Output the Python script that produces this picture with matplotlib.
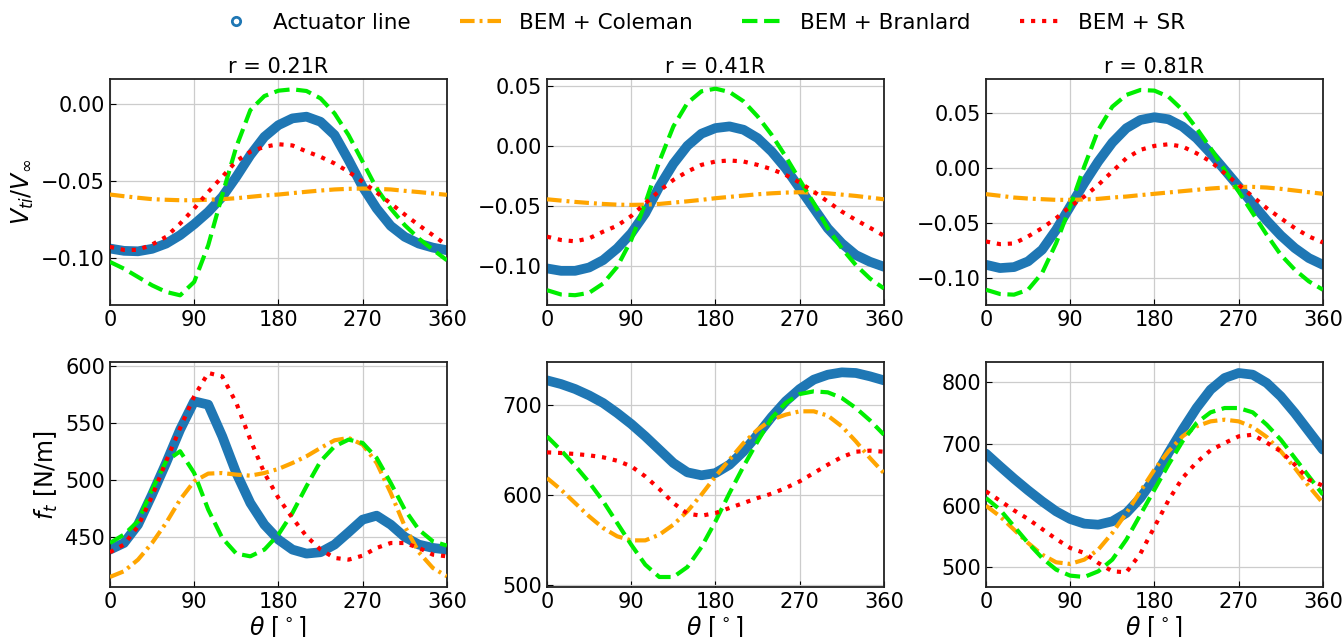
import numpy as np
import matplotlib
matplotlib.use("Agg")
import matplotlib.pyplot as plt
from matplotlib.lines import Line2D

theta = np.arange(0, 361, 15)

# induced tangential velocity V_ti / V_inf
vt_r21_al = [-0.0938, -0.0953, -0.0956, -0.0940, -0.0906, -0.0851, -0.0780, -0.0700, -0.0602, -0.0472, -0.0331, -0.0212, -0.0136,
             -0.0092, -0.0081, -0.0114, -0.0200, -0.0363, -0.0537, -0.0678, -0.0791, -0.0862, -0.0906, -0.0932, -0.0949]
vt_r21_col = [-0.0587, -0.0598, -0.0608, -0.0617, -0.0621, -0.0624, -0.0624, -0.0621, -0.0617, -0.0611, -0.0602, -0.0593, -0.0587,
              -0.0578, -0.0569, -0.0561, -0.0554, -0.0550, -0.0548, -0.0550, -0.0554, -0.0563, -0.0571, -0.0580, -0.0589]
vt_r21_bra = [-0.1025, -0.1069, -0.1123, -0.1177, -0.1220, -0.1242, -0.1155, -0.0917, -0.0590, -0.0277, -0.0038, 0.0053, 0.0088,
              0.0097, 0.0086, 0.0038, -0.0060, -0.0201, -0.0374, -0.0548, -0.0678, -0.0786, -0.0873, -0.0945, -0.1014]
vt_r21_sr = [-0.0927, -0.0947, -0.0947, -0.0912, -0.0862, -0.0776, -0.0678, -0.0570, -0.0472, -0.0370, -0.0309, -0.0277, -0.0260,
             -0.0268, -0.0307, -0.0342, -0.0385, -0.0439, -0.0504, -0.0574, -0.0645, -0.0717, -0.0786, -0.0851, -0.0917]

vt_r41_al = [-0.1024, -0.1044, -0.1044, -0.1016, -0.0954, -0.0856, -0.0730, -0.0562, -0.0339, -0.0148, 0.0003, 0.0104, 0.0151,
             0.0165, 0.0137, 0.0067, -0.0045, -0.0185, -0.0353, -0.0520, -0.0688, -0.0814, -0.0912, -0.0968, -0.1010]
vt_r41_col = [-0.0445, -0.0456, -0.0467, -0.0476, -0.0484, -0.0490, -0.0492, -0.0490, -0.0484, -0.0473, -0.0462, -0.0450, -0.0436,
              -0.0425, -0.0414, -0.0403, -0.0395, -0.0389, -0.0386, -0.0389, -0.0395, -0.0406, -0.0417, -0.0431, -0.0445]
vt_r41_bra = [-0.1206, -0.1242, -0.1248, -0.1228, -0.1150, -0.1010, -0.0786, -0.0478, -0.0129, 0.0165, 0.0361, 0.0459, 0.0481,
              0.0453, 0.0375, 0.0249, 0.0095, -0.0087, -0.0283, -0.0478, -0.0688, -0.0856, -0.0996, -0.1108, -0.1192]
vt_r41_sr = [-0.0758, -0.0786, -0.0797, -0.0772, -0.0716, -0.0666, -0.0585, -0.0478, -0.0375, -0.0283, -0.0213, -0.0157, -0.0129,
             -0.0120, -0.0129, -0.0157, -0.0193, -0.0241, -0.0305, -0.0381, -0.0464, -0.0548, -0.0618, -0.0683, -0.0750]

vt_r81_al = [-0.0879, -0.0909, -0.0900, -0.0848, -0.0742, -0.0561, -0.0348, -0.0136, 0.0061, 0.0233, 0.0364, 0.0439, 0.0464,
             0.0445, 0.0379, 0.0273, 0.0136, -0.0015, -0.0167, -0.0324, -0.0476, -0.0612, -0.0727, -0.0818, -0.0879]
vt_r81_col = [-0.0236, -0.0251, -0.0267, -0.0276, -0.0282, -0.0288, -0.0288, -0.0285, -0.0279, -0.0267, -0.0258, -0.0245, -0.0233,
              -0.0221, -0.0209, -0.0197, -0.0185, -0.0176, -0.0170, -0.0170, -0.0176, -0.0188, -0.0203, -0.0218, -0.0233]
vt_r81_bra = [-0.1106, -0.1145, -0.1151, -0.1106, -0.0954, -0.0682, -0.0348, 0.0015, 0.0348, 0.0560, 0.0667, 0.0712, 0.0706,
              0.0651, 0.0530, 0.0364, 0.0182, -0.0015, -0.0212, -0.0409, -0.0606, -0.0788, -0.0924, -0.1030, -0.1106]
vt_r81_sr = [-0.0667, -0.0691, -0.0685, -0.0621, -0.0545, -0.0455, -0.0348, -0.0258, -0.0152, -0.0030, 0.0091, 0.0167, 0.0203,
             0.0218, 0.0197, 0.0136, 0.0061, -0.0045, -0.0152, -0.0258, -0.0364, -0.0455, -0.0545, -0.0621, -0.0676]

# tangential force f_t [N/m]
ft_r21_al = [438.6, 444.4, 460.5, 486.8, 514.6, 543.9, 568.7, 565.8, 538.0, 505.8, 479.5, 460.5, 447.4,
             438.6, 435.1, 436.3, 443.0, 453.8, 464.9, 468.4, 460.5, 449.7, 443.0, 440.1, 438.6]
ft_r21_col = [414.6, 419.6, 429.8, 444.4, 462.0, 482.5, 498.5, 505.3, 505.8, 504.4, 503.5, 505.8, 509.4,
              514.6, 520.5, 527.8, 534.5, 536.6, 530.7, 514.6, 488.3, 459.1, 436.3, 422.5, 415.2]
ft_r21_bra = [444.4, 451.8, 463.4, 491.2, 516.1, 524.9, 505.8, 473.7, 448.8, 435.1, 432.7, 438.6, 451.8,
              470.8, 494.2, 516.1, 529.2, 535.1, 532.2, 519.0, 497.1, 473.7, 456.1, 445.9, 442.1]
ft_r21_sr = [436.3, 443.0, 459.1, 485.4, 516.1, 545.3, 573.1, 593.6, 590.6, 567.3, 535.1, 505.8, 483.9,
             466.4, 450.3, 438.6, 431.3, 429.8, 433.3, 440.1, 444.4, 444.4, 440.1, 434.2, 432.7]

ft_r41_al = [727.4, 723.3, 717.8, 710.7, 702.2, 691.1, 678.9, 665.2, 650.4, 635.6, 625.2, 621.9, 624.4,
             633.7, 648.5, 667.0, 686.7, 704.1, 717.8, 728.2, 733.7, 736.3, 735.6, 731.9, 727.4]
ft_r41_col = [618.9, 605.9, 591.1, 576.3, 563.3, 554.1, 549.6, 549.6, 555.9, 567.0, 581.9, 600.4, 620.7,
              639.3, 657.8, 672.6, 683.7, 689.3, 693.0, 693.0, 688.2, 676.3, 659.6, 641.1, 624.4]
ft_r41_bra = [665.2, 649.6, 632.6, 614.1, 593.0, 568.9, 544.8, 522.6, 508.9, 508.9, 520.0, 542.2, 570.7,
              602.2, 631.9, 659.6, 685.6, 702.2, 712.2, 715.2, 714.1, 707.8, 696.7, 683.0, 667.0]
ft_r41_sr = [647.4, 646.7, 645.6, 644.1, 641.9, 638.1, 631.9, 620.7, 606.7, 591.1, 579.3, 577.0, 580.0,
             585.6, 591.1, 596.7, 601.5, 607.8, 615.2, 624.4, 633.7, 642.2, 648.1, 649.3, 648.1]

ft_r81_al = [684.2, 663.7, 643.7, 624.8, 607.0, 590.8, 578.4, 570.9, 569.2, 574.6, 588.1, 612.4, 644.8,
             685.3, 723.0, 758.1, 787.8, 806.7, 814.8, 812.1, 798.6, 777.0, 750.0, 720.3, 690.7]
ft_r81_col = [600.0, 582.7, 561.1, 539.6, 520.7, 508.3, 505.6, 512.6, 528.8, 555.8, 588.1, 623.2, 658.3,
              688.0, 712.2, 728.4, 736.5, 739.2, 736.5, 727.3, 711.2, 688.0, 661.0, 631.3, 604.3]
ft_r81_bra = [612.4, 593.5, 566.5, 539.6, 515.3, 496.4, 486.7, 484.5, 493.7, 512.6, 545.0, 585.4, 625.9,
              666.4, 704.1, 733.8, 751.1, 758.1, 758.1, 751.1, 731.1, 706.8, 677.2, 647.5, 617.8]
ft_r81_sr = [623.2, 608.1, 592.4, 578.4, 562.2, 546.0, 531.5, 523.4, 507.2, 493.7, 492.1, 522.3, 565.5,
             608.6, 644.8, 670.1, 689.6, 701.4, 712.2, 714.9, 702.0, 688.0, 666.4, 642.1, 632.4]

titles = ['r = 0.21R', 'r = 0.41R', 'r = 0.81R']
labels = ['Actuator line', 'BEM + Coleman', 'BEM + Branlard', 'BEM + SR']
x_ticks = [0, 90, 180, 270, 360]
vt_yticks = [[-0.10, -0.05, 0.00], [-0.10, -0.05, 0.00, 0.05], [-0.10, -0.05, 0.00, 0.05]]
ft_yticks = [[450, 500, 550, 600], [500, 600, 700], [500, 600, 700, 800]]
vt_ylims = [(-0.1305, 0.0164), (-0.133, 0.0562), (-0.1245, 0.0812)]
ft_ylims = [(405.8, 603.2), (497.8, 747.8), (468.3, 832.6)]

vt_data = [(vt_r21_al, vt_r21_col, vt_r21_bra, vt_r21_sr),
           (vt_r41_al, vt_r41_col, vt_r41_bra, vt_r41_sr),
           (vt_r81_al, vt_r81_col, vt_r81_bra, vt_r81_sr)]
ft_data = [(ft_r21_al, ft_r21_col, ft_r21_bra, ft_r21_sr),
           (ft_r41_al, ft_r41_col, ft_r41_bra, ft_r41_sr),
           (ft_r81_al, ft_r81_col, ft_r81_bra, ft_r81_sr)]

c_al, c_col, c_bra, c_sr = '#1f77b4', '#FFA500', '#00EE00', '#FF0000'
dashdot = (3.5, 1.2, 0.7, 1.2)

fig = plt.figure(figsize=(13.44, 6.37), dpi=100)
lefts = [0.0818, 0.407, 0.7336]
w = 0.2507


def draw(ax, series, ylim, yticks):
    al, col, bra, sr = series
    ax.plot(theta, al, color=c_al, lw=7, solid_capstyle='round', zorder=2)
    ax.plot(theta, col, color=c_col, lw=3, dashes=dashdot, zorder=3)
    ax.plot(theta, bra, color=c_bra, lw=3, ls='--', zorder=3)
    ax.plot(theta, sr, color=c_sr, lw=3, ls=':', zorder=4)
    ax.set_xlim(0, 360)
    ax.set_ylim(*ylim)
    ax.set_xticks(x_ticks)
    ax.set_yticks(yticks)
    ax.grid(True, color='#cccccc', lw=0.9)
    ax.set_axisbelow(True)
    ax.tick_params(direction='in', labelsize=15, length=4)
    for s in ax.spines.values():
        s.set_linewidth(1.3)
        s.set_color('#222222')


for i in range(3):
    ax = fig.add_axes([lefts[i], 0.5212, w, 0.3548])
    draw(ax, vt_data[i], vt_ylims[i], vt_yticks[i])
    ax.set_title(titles[i], fontsize=15, pad=4)
    if i == 0:
        ax.set_ylabel(r'$V_{ti}/V_{\infty}$', fontsize=17)

    ax = fig.add_axes([lefts[i], 0.0785, w, 0.3532])
    draw(ax, ft_data[i], ft_ylims[i], ft_yticks[i])
    ax.set_xlabel(r'$\theta$ [$^\circ$]', fontsize=17, labelpad=2)
    if i == 0:
        ax.set_ylabel(r'$f_t$ [N/m]', fontsize=17)

handles = [Line2D([], [], ls='none', marker='o', mfc='none', mec=c_al, mew=2, ms=6),
           Line2D([], [], color=c_col, lw=3, dashes=dashdot),
           Line2D([], [], color=c_bra, lw=3, ls='--'),
           Line2D([], [], color=c_sr, lw=3, ls=':')]
fig.legend(handles, labels, loc='upper center', ncol=4, frameon=False, fontsize=15.5,
           bbox_to_anchor=(0.521, 1.01), columnspacing=2.3, handlelength=1.9)

fig.savefig('out.png', dpi=100)
